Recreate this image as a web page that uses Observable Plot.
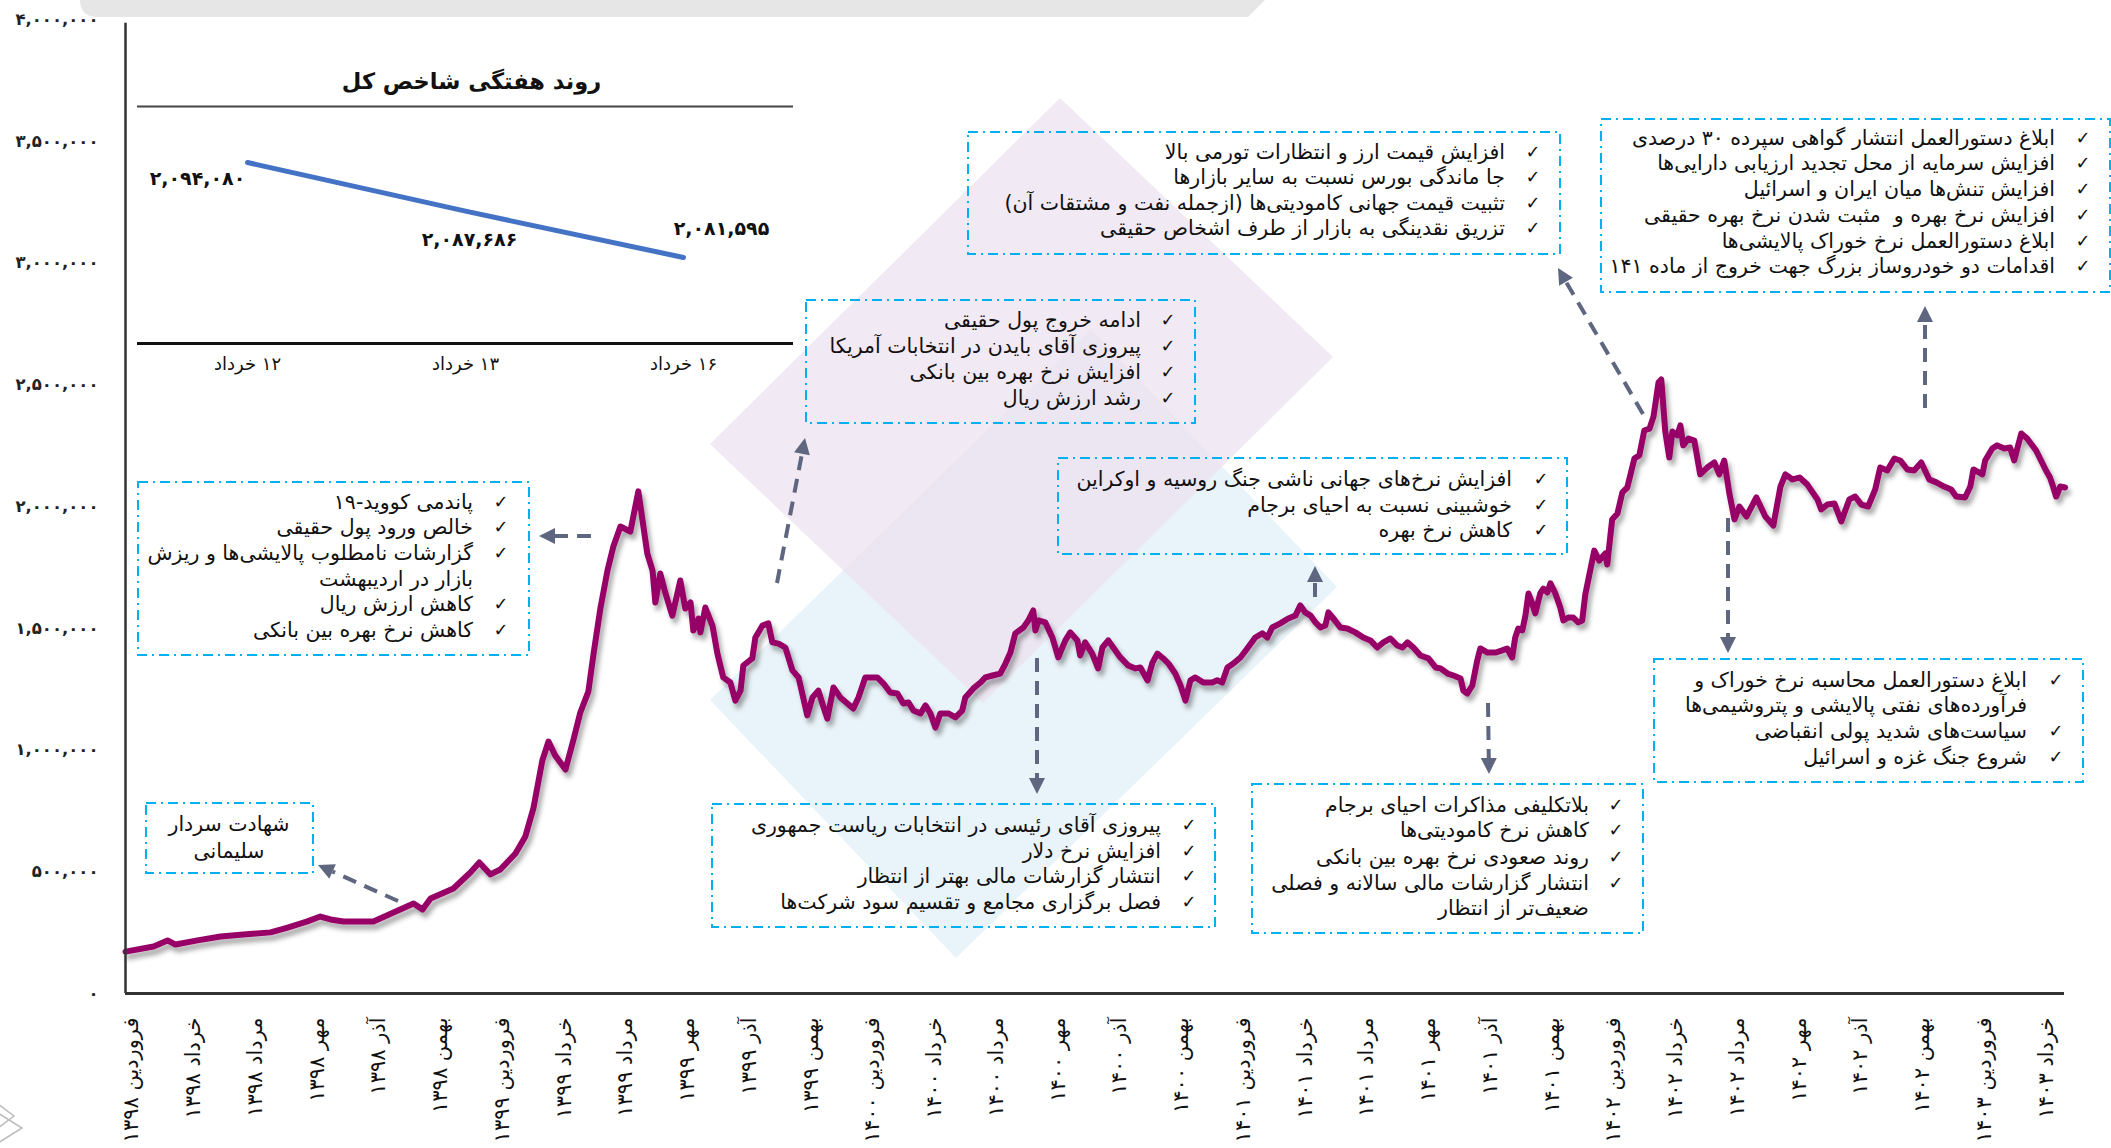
<!DOCTYPE html>
<html><head><meta charset="utf-8">
<script src="https://cdn.jsdelivr.net/npm/d3@7"></script>
<script src="https://cdn.jsdelivr.net/npm/@observablehq/plot@0.6"></script>
<style>
html,body{margin:0;padding:0;background:#fff;}
#chart{position:relative;width:2111px;height:1148px;overflow:hidden;font-family:"DejaVu Sans",sans-serif;}
#chart svg{overflow:visible;}
</style></head><body><div id="chart"></div>
<script>
// ---- DATA ----
// month index: 0 = start of Farvardin 1398, step = 1 month
const monthIdx = [-0.2,0.71,1.16,1.42,2.13,2.88,3.62,4.5,5.05,5.69,6.11,6.44,6.86,7.83,8.48,9.13,9.42,9.68,10.42,10.97,11.26,11.62,11.94,12.43,12.75,13.01,13.3,13.5,13.72,14.05,14.31,14.53,14.79,14.96,15.18,15.41,15.6,15.83,16.15,16.41,16.7,16.87,16.96,17.12,17.29,17.51,17.77,17.93,18.1,18.19,18.36,18.42,18.58,18.81,18.97,19.16,19.39,19.55,19.72,19.81,20.1,20.2,20.43,20.62,20.75,20.95,21.17,21.4,21.6,21.88,22.05,22.24,22.37,22.53,22.73,22.95,23.18,23.37,23.54,23.76,24.15,24.35,24.57,24.8,24.99,25.16,25.32,25.55,25.71,25.87,26.03,26.19,26.45,26.68,26.9,27.0,27.26,27.49,27.65,27.88,28.13,28.3,28.46,28.62,28.88,29.04,29.2,29.27,29.37,29.59,29.82,30.01,30.24,30.4,30.63,30.72,30.88,31.11,31.3,31.44,31.63,32.02,32.28,32.51,32.67,32.9,33.06,33.22,33.41,33.58,33.8,33.97,34.13,34.29,34.45,34.71,35.0,35.16,35.32,35.49,35.68,35.91,36.13,36.39,36.62,36.78,36.94,37.2,37.46,37.69,37.85,38.01,38.18,38.34,38.5,38.66,38.76,38.92,39.15,39.37,39.63,39.89,40.12,40.34,40.54,40.77,40.99,41.16,41.32,41.51,41.74,42.0,42.23,42.39,42.62,42.81,43.04,43.13,43.26,43.42,43.58,43.68,43.91,44.17,44.39,44.55,44.71,44.81,44.91,45.04,45.14,45.24,45.36,45.46,45.62,45.72,45.85,45.95,46.11,46.27,46.37,46.53,46.69,46.85,46.98,47.08,47.37,47.53,47.73,47.79,47.95,48.12,48.28,48.44,48.67,48.83,48.99,49.16,49.29,49.45,49.54,49.67,49.8,49.9,50.06,50.16,50.25,50.42,50.61,50.8,51.03,51.26,51.42,51.58,51.74,51.91,52.07,52.3,52.62,52.91,53.17,53.4,53.56,53.79,54.02,54.27,54.6,54.72,54.92,55.15,55.37,55.63,55.82,56.02,56.24,56.47,56.63,56.86,57.09,57.28,57.51,57.73,57.96,58.22,58.45,58.7,58.93,59.09,59.38,59.55,59.65,59.94,60.03,60.26,60.42,60.65,60.84,60.97,61.2,61.39,61.68,61.84,62.0,62.13,62.23,62.33,62.46,62.62];
const tedpix = [172000,193000,218000,201000,218000,234000,242000,251000,271000,296000,316000,304000,296000,296000,333000,370000,345000,390000,431000,497000,538000,489000,509000,575000,645000,760000,957000,1035000,977000,920000,1043000,1154000,1240000,1396000,1581000,1737000,1836000,1918000,1897000,2062000,1807000,1737000,1606000,1725000,1643000,1552000,1696000,1581000,1606000,1491000,1540000,1483000,1585000,1511000,1396000,1298000,1277000,1203000,1244000,1347000,1376000,1462000,1511000,1520000,1442000,1437000,1421000,1327000,1298000,1142000,1216000,1244000,1191000,1129000,1257000,1216000,1191000,1170000,1216000,1298000,1298000,1273000,1236000,1232000,1191000,1195000,1162000,1150000,1183000,1150000,1092000,1150000,1150000,1134000,1162000,1216000,1253000,1277000,1298000,1306000,1314000,1355000,1400000,1479000,1503000,1532000,1573000,1491000,1532000,1524000,1462000,1380000,1450000,1483000,1450000,1388000,1442000,1396000,1335000,1421000,1450000,1380000,1347000,1335000,1339000,1286000,1359000,1396000,1376000,1355000,1314000,1265000,1203000,1286000,1298000,1277000,1277000,1286000,1277000,1339000,1355000,1380000,1417000,1462000,1479000,1462000,1503000,1520000,1540000,1552000,1594000,1565000,1552000,1524000,1503000,1511000,1565000,1540000,1503000,1499000,1483000,1462000,1450000,1421000,1442000,1458000,1429000,1421000,1442000,1421000,1388000,1376000,1339000,1335000,1314000,1306000,1294000,1244000,1232000,1265000,1368000,1417000,1400000,1400000,1409000,1417000,1380000,1462000,1499000,1491000,1552000,1643000,1602000,1561000,1643000,1663000,1647000,1684000,1643000,1585000,1532000,1544000,1544000,1524000,1532000,1639000,1819000,1778000,1807000,1762000,1947000,1971000,2058000,2078000,2197000,2210000,2312000,2320000,2370000,2509000,2522000,2308000,2201000,2308000,2292000,2333000,2251000,2279000,2271000,2132000,2160000,2181000,2132000,2189000,2058000,1947000,2000000,1959000,2037000,1959000,1922000,2082000,2132000,2111000,2119000,2090000,2029000,1988000,2008000,2012000,1939000,2029000,2041000,2008000,2000000,2070000,2160000,2148000,2197000,2189000,2152000,2148000,2181000,2111000,2099000,2082000,2070000,2041000,2037000,2082000,2152000,2132000,2189000,2238000,2251000,2238000,2242000,2189000,2300000,2279000,2230000,2189000,2148000,2119000,2082000,2041000,2082000,2078000];
const tickMonths = [0,2,4,6,8,10,12,14,16,18,20,22,24,26,28,30,32,34,36,38,40,42,44,46,48,50,52,54,56,58,60,62];
const tickLabels = ["فروردین ۱۳۹۸","خرداد ۱۳۹۸","مرداد ۱۳۹۸","مهر ۱۳۹۸","آذر ۱۳۹۸","بهمن ۱۳۹۸",
  "فروردین ۱۳۹۹","خرداد ۱۳۹۹","مرداد ۱۳۹۹","مهر ۱۳۹۹","آذر ۱۳۹۹","بهمن ۱۳۹۹",
  "فروردین ۱۴۰۰","خرداد ۱۴۰۰","مرداد ۱۴۰۰","مهر ۱۴۰۰","آذر ۱۴۰۰","بهمن ۱۴۰۰",
  "فروردین ۱۴۰۱","خرداد ۱۴۰۱","مرداد ۱۴۰۱","مهر ۱۴۰۱","آذر ۱۴۰۱","بهمن ۱۴۰۱",
  "فروردین ۱۴۰۲","خرداد ۱۴۰۲","مرداد ۱۴۰۲","مهر ۱۴۰۲","آذر ۱۴۰۲","بهمن ۱۴۰۲",
  "فروردین ۱۴۰۳","خرداد ۱۴۰۳"];
const yTicks = [0,500000,1000000,1500000,2000000,2500000,3000000,3500000,4000000];
const insetDays = ["۱۲ خرداد","۱۳ خرداد","۱۶ خرداد"];
const insetValues = [2094080, 2087686, 2081595];
const insetTitle = "روند هفتگی شاخص کل";

// ---- annotation texts & layout (pixels) ----
const notes = [
  {box:[138,482,529,655], checkX:501, textX:473, lines:[[502,"پاندمی کووید-۱۹",1],[527,"خالص ورود پول حقیقی",1],[553,"گزارشات نامطلوب پالایشی‌ها و ریزش",1],[579,"بازار در اردیبهشت",0],[604,"کاهش ارزش ریال",1],[630,"کاهش نرخ بهره بین بانکی",1]]},
  {box:[146,803,313,873], centerX:229, lines:[[824,"شهادت سردار",0],[851,"سلیمانی",0]]},
  {box:[806,300,1195,423], checkX:1168, textX:1141, lines:[[320,"ادامه خروج پول حقیقی",1],[346,"پیروزی آقای بایدن در انتخابات آمریکا",1],[372,"افزایش نرخ بهره بین بانکی",1],[398,"رشد ارزش ریال",1]]},
  {box:[968,132,1560,254], checkX:1533, textX:1505, lines:[[152,"افزایش قیمت ارز و انتظارات تورمی بالا",1],[177,"جا ماندگی بورس نسبت به سایر بازارها",1],[203,"تثبیت قیمت جهانی کامودیتی‌ها (ازجمله نفت و مشتقات آن)",1],[228,"تزریق نقدینگی به بازار از طرف اشخاص حقیقی",1]]},
  {box:[1601,119,2110,292], checkX:2083, textX:2055, lines:[[138,"ابلاغ دستورالعمل انتشار گواهی سپرده ۳۰ درصدی",1],[163,"افزایش سرمایه از محل تجدید ارزیابی دارایی‌ها",1],[189,"افزایش تنش‌ها میان ایران و اسرائیل",1],[215,"افزایش نرخ بهره و  مثبت شدن نرخ بهره حقیقی",1],[241,"ابلاغ دستورالعمل نرخ خوراک پالایشی‌ها",1],[266,"اقدامات دو خودروساز بزرگ جهت خروج از ماده ۱۴۱",1]]},
  {box:[1058,458,1567,554], checkX:1541, textX:1512, lines:[[479,"افزایش نرخ‌های جهانی ناشی جنگ روسیه و اوکراین",1],[505,"خوشبینی نسبت به احیای برجام",1],[530,"کاهش نرخ بهره",1]]},
  {box:[712,804,1215,927], checkX:1189, textX:1161, lines:[[825,"پیروزی آقای رئیسی در انتخابات ریاست جمهوری",1],[851,"افزایش نرخ دلار",1],[876,"انتشار گزارشات مالی بهتر از انتظار",1],[902,"فصل برگزاری مجامع و تقسیم سود شرکت‌ها",1]]},
  {box:[1252,784,1643,933], checkX:1616, textX:1589, lines:[[805,"بلاتکلیفی مذاکرات احیای برجام",1],[830,"کاهش نرخ کامودیتی‌ها",1],[857,"روند صعودی نرخ بهره بین بانکی",1],[883,"انتشار گزارشات مالی سالانه و فصلی",1],[908,"ضعیف‌تر از انتظار",0]]},
  {box:[1654,659,2083,782], checkX:2056, textX:2027, lines:[[680,"ابلاغ دستورالعمل محاسبه نرخ خوراک و",1],[705,"فرآورده‌های نفتی پالایشی و پتروشیمی‌ها",0],[731,"سیاست‌های شدید پولی انقباضی",1],[757,"شروع جنگ غزه و اسرائیل",1]]}
];
const arrows = [[591,536,539,536],[398,901,318,865],[777,583,805,438],[1643,414,1558,268],[1925,408,1925,306],[1315,597,1315,566],[1037,658,1037,794],[1488,703,1489,774],[1728,518,1728,653]];

// ---- helpers ----
const fa = s => String(s).replace(/\d/g, d => "۰۱۲۳۴۵۶۷۸۹"[d]);
const rtl = s => "\u200F" + s + "\u200F";
const series = monthIdx.map((m, i) => ({m, v: tedpix[i]}));

const main = Plot.plot({
  width: 2111, height: 1148,
  marginLeft: 125, marginRight: 47, marginTop: 19, marginBottom: 155,
  style: {fontFamily: "DejaVu Sans", background: "transparent"},
  x: {domain: [-0.2, 62.6], label: null},
  y: {domain: [0, 4000000], label: null},
  marks: [
    Plot.axisY(yTicks, {tickSize: 0, tickPadding: 27, label: null, tickFormat: d => fa(d3.format(",")(d)), fontSize: 16.5, fontWeight: "bold", fill: "#222"}),
    Plot.axisX(tickMonths, {tickSize: 0, tickPadding: 24, label: null, tickRotate: -90, tickFormat: d => rtl(tickLabels[tickMonths.indexOf(d)]), fontSize: 21, fill: "#111"}),
    Plot.line(series, {x: "m", y: "v", stroke: "#970066", strokeWidth: 6, strokeLinejoin: "round", strokeLinecap: "round"}),
    Plot.ruleX([-0.2], {y1: 0, y2: 3985000, stroke: "#333", strokeWidth: 2.5}),
    Plot.ruleY([0], {stroke: "#333", strokeWidth: 3})
  ]
});
document.getElementById("chart").appendChild(main);

const svg = d3.select(main);
// shadow filter
const defs = svg.insert("defs", ":first-child");
const f = defs.append("filter").attr("id", "shadow").attr("x", "-5%").attr("y", "-5%").attr("width", "110%").attr("height", "115%");
f.append("feDropShadow").attr("dx", 3).attr("dy", 5).attr("stdDeviation", 2.5).attr("flood-color", "#000").attr("flood-opacity", 0.35);
svg.selectAll("g[aria-label='line'] path").attr("filter", "url(#shadow)");

// background decoration
const bg = svg.insert("g", "g");
bg.append("path").attr("d", "M80,0 L1265,0 L1248,17 L98,17 Q80,17 80,0 Z").attr("fill", "#e6e6e6");
bg.append("polygon").attr("points", "710,700 1091,329 1337,587 956,958").attr("fill", "rgba(200,228,243,0.4)");
bg.append("polygon").attr("points", "710,444 1060,98 1333,357 983,703").attr("fill", "rgba(236,226,239,0.75)");
bg.append("polygon").attr("points", "-10,1098 14,1116 -10,1134").attr("fill", "none").attr("stroke", "#bdbdbd").attr("stroke-width", 1.5);
bg.append("polygon").attr("points", "-10,1108 22,1128 -10,1148").attr("fill", "none").attr("stroke", "#bdbdbd").attr("stroke-width", 1.5);

// annotations
const ann = svg.append("g").attr("font-family", "DejaVu Sans");
for (const n of notes) {
  const [x1, y1, x2, y2] = n.box;
  ann.append("rect").attr("x", x1).attr("y", y1).attr("width", x2 - x1).attr("height", y2 - y1)
    .attr("fill", "none").attr("stroke", "#00b0f0").attr("stroke-width", 2).attr("stroke-dasharray", "10,5,2,5");
  for (const [y, t, c] of n.lines) {
    if (n.centerX) {
      ann.append("text").attr("x", n.centerX).attr("y", y).attr("dy", "0.35em").attr("text-anchor", "middle")
        .attr("font-size", 20.5).attr("fill", "#111").text(rtl(t));
    } else {
      ann.append("text").attr("x", n.textX).attr("y", y).attr("dy", "0.35em").attr("text-anchor", "end")
        .attr("font-size", 20.5).attr("fill", "#111").text(rtl(t));
      if (c) ann.append("text").attr("x", n.checkX).attr("y", y).attr("dy", "0.35em").attr("text-anchor", "middle")
        .attr("font-size", 18).attr("fill", "#111").text("✓");
    }
  }
}
for (const [sx, sy, tx, ty] of arrows) {
  const dx = tx - sx, dy = ty - sy, L = Math.hypot(dx, dy), ux = dx / L, uy = dy / L;
  const hl = 16, hw = 8;
  const bx = tx - ux * hl, by = ty - uy * hl;
  ann.append("line").attr("x1", sx).attr("y1", sy).attr("x2", bx).attr("y2", by)
    .attr("stroke", "#5f6680").attr("stroke-width", 4).attr("stroke-dasharray", "14,9");
  ann.append("polygon").attr("points", `${tx},${ty} ${bx - uy * hw},${by + ux * hw} ${bx + uy * hw},${by - ux * hw}`).attr("fill", "#5f6680");
}

// ---- inset chart ----
const insetData = insetDays.map((d, i) => ({d, v: insetValues[i]}));
const labelOffsets = [[-50, 16], [4, 29], [38, -29]];
const inset = Plot.plot({
  width: 656, height: 320,
  marginTop: 46, marginBottom: 37, marginLeft: 0, marginRight: 0,
  style: {fontFamily: "DejaVu Sans", background: "transparent", position: "absolute", left: "137px", top: "60px"},
  x: {type: "point", domain: insetDays, padding: 0.5, label: null},
  y: {domain: [2070300, 2101440], label: null, axis: null},
  marks: [
    Plot.axisX({tickSize: 0, tickPadding: 14, fontSize: 18, fill: "#111", label: null, tickFormat: d => rtl(d)}),
    Plot.ruleY([2101440], {stroke: "#444", strokeWidth: 2}),
    Plot.ruleY([2070300], {stroke: "#111", strokeWidth: 3}),
    Plot.line(insetData, {x: "d", y: "v", stroke: "#4472c4", strokeWidth: 5, strokeLinecap: "round"}),
    ...insetData.map((p, i) => Plot.text([p], {x: "d", y: "v", text: q => fa(d3.format(",")(q.v)), dx: labelOffsets[i][0], dy: labelOffsets[i][1], fontSize: 19, fontWeight: "bold", fill: "#111"})),
    Plot.text([insetTitle], {frameAnchor: "top", lineAnchor: "middle", dx: 6, dy: -25, fontSize: 22.5, fontWeight: "bold", fill: "#111", text: d => rtl(d)})
  ]
});
document.getElementById("chart").appendChild(inset);
</script>
</body></html>
